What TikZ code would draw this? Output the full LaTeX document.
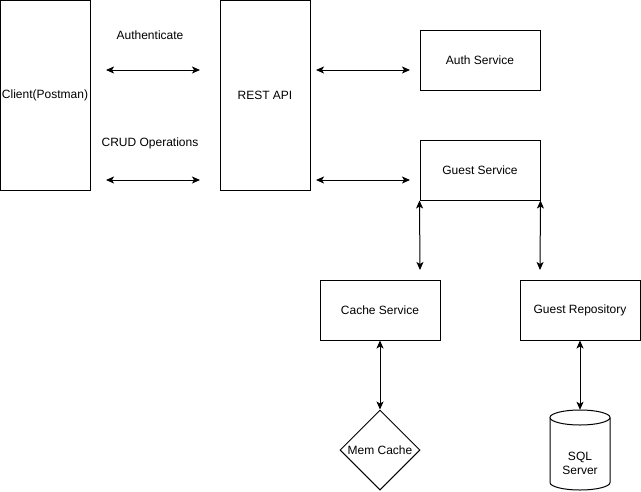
\documentclass[tikz,border=0pt]{standalone}
\usepackage{fontspec}
\setmainfont{Liberation Sans}
\usetikzlibrary{arrows.meta,shapes.geometric}
\tikzset{
  box/.style={draw, line width=1pt, inner sep=0pt, fill=white},
  lbl/.style={inner sep=0pt, align=center, font=\fontsize{12}{14}\selectfont},
  link/.style={line width=1pt, {Stealth[length=8pt,width=7pt,inset=2pt]}-{Stealth[length=8pt,width=7pt,inset=2pt]}},
}
\begin{document}
\begin{tikzpicture}[x=1pt,y=-1pt, font=\fontsize{12}{14}\selectfont]
\useasboundingbox (0,0) rectangle (641,491);
% boxes
\node[box, minimum width=89.5pt, minimum height=189.5pt] (client) at (45.25,95.25) {};
\node[lbl] (clientt) at (45,95) {Client(Postman)};
\node[box, minimum width=90pt, minimum height=190pt] (rest) at (265,95) {REST API};
\node[box, minimum width=120pt, minimum height=60pt] (auth) at (480,60) {Auth Service};
\node[box, minimum width=120pt, minimum height=60pt] (guest) at (480,170) {Guest Service};
\node[box, minimum width=120pt, minimum height=60pt] (cache) at (380,310) {Cache Service};
\node[box, minimum width=120pt, minimum height=60pt] (repo) at (580,310) {Guest Repository};
\node[draw, diamond, line width=1pt, inner sep=0pt, minimum width=80pt, minimum height=80pt, fill=white] (mem) at (380,450) {Mem Cache};
% cylinder
\draw[line width=1pt, fill=white] (550,417.5) -- (550,482.5) arc[start angle=180, end angle=0, x radius=30, y radius=7.5] -- (610,417.5);
\draw[line width=1pt, fill=white] (580,417.5) ellipse [x radius=30, y radius=7.5];
\node[inner sep=0pt, minimum width=60pt, minimum height=80pt] (sql) at (580,450) {};
\node[lbl] (sqlt) at (580,463) {SQL\\Server};
% labels
\node[lbl] (la) at (150,35) {Authenticate};
\node[lbl] (lc) at (150,143) {CRUD Operations};
% free arrow end points
\coordinate (a1) at (106,70);
\coordinate (a2) at (200,70);
\coordinate (c1) at (106,180);
\coordinate (c2) at (200,180);
\coordinate (r1) at (316,70);
\coordinate (r2) at (410,70);
\coordinate (r3) at (316,180);
\coordinate (r4) at (410,180);
\coordinate (v1) at (420,270);
\coordinate (v2) at (540,270);
% connectors
\draw[link] (a1) -- (a2);
\draw[link] (c1) -- (c2);
\draw[link] (r1) -- (r2);
\draw[link] (r3) -- (r4);
\draw[link] (guest.south west) -- (v1);
\draw[link] (guest.south east) -- (v2);
\draw[link] (cache.south) -- (mem.north);
\draw[link] (repo.south) -- (sql.north);
\end{tikzpicture}
\end{document}
